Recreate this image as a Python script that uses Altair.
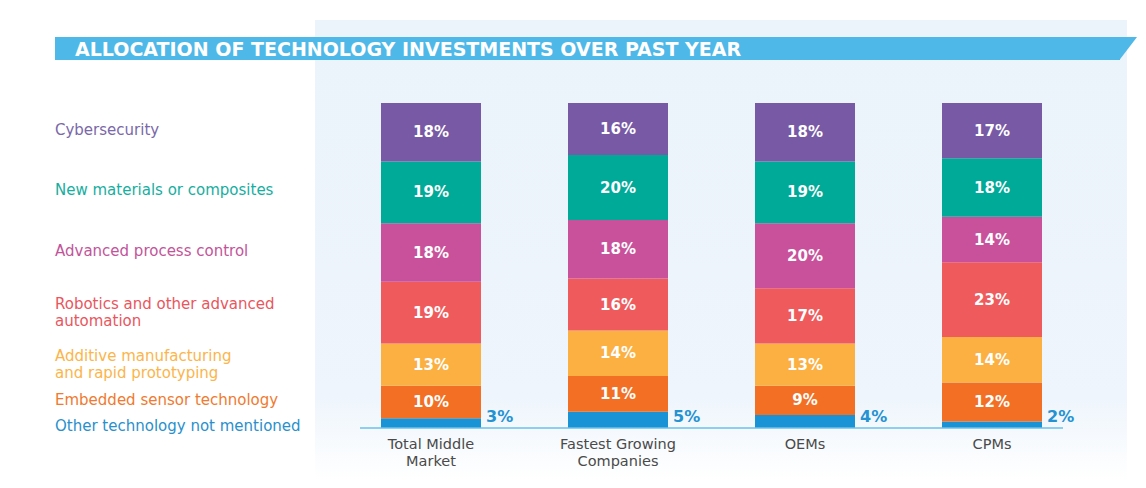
import altair as alt
import pandas as pd

# ---------------- data ----------------
groups = ["Total Middle Market", "Fastest Growing Companies", "OEMs", "CPMs"]
group_labels = ["Total Middle\nMarket", "Fastest Growing\nCompanies", "OEMs", "CPMs"]

categories = [
    "Cybersecurity",
    "New materials or composites",
    "Advanced process control",
    "Robotics and other advanced automation",
    "Additive manufacturing and rapid prototyping",
    "Embedded sensor technology",
    "Other technology not mentioned",
]
category_labels = [
    "Cybersecurity",
    "New materials or composites",
    "Advanced process control",
    "Robotics and other advanced\nautomation",
    "Additive manufacturing\nand rapid prototyping",
    "Embedded sensor technology",
    "Other technology not mentioned",
]

total_middle_market = [18, 19, 18, 19, 13, 10, 3]
fastest_growing = [16, 20, 18, 16, 14, 11, 5]
oems = [18, 19, 20, 17, 13, 9, 4]
cpms = [17, 18, 14, 23, 14, 12, 2]
series = [total_middle_market, fastest_growing, oems, cpms]

bar_colors = ["#7759A5", "#00AA98", "#C9519B", "#EF5A5C", "#FBB041", "#F26F23", "#1A93D6"]
text_colors = ["#7A68A8", "#17AE9F", "#C2559A", "#E9565E", "#FBB54B", "#EF7A30", "#2A90CC"]
title_text = "ALLOCATION OF TECHNOLOGY INVESTMENTS OVER PAST YEAR"

# ------------- build tables -------------
rows = []
for g, gl, vals in zip(groups, group_labels, series):
    cum = 0
    for i in range(len(categories) - 1, -1, -1):
        v = vals[i]
        rows.append({
            "group": g, "glabel": gl, "category": categories[i],
            "clabel": category_labels[i], "value": v,
            "start": cum, "end": cum + v, "mid": cum + v / 2,
            "label": f"{v}%", "is_other": i == len(categories) - 1,
            "multi": "\n" in category_labels[i],
        })
        cum += v
df = pd.DataFrame(rows)
seg_df = df[~df["is_other"]]
other_df = df[df["is_other"]]
legend_df = df[df["group"] == groups[0]]
leg_single = legend_df[(~legend_df["multi"]) & (~legend_df["is_other"])]
leg_multi = legend_df[legend_df["multi"]]
leg_other = legend_df[legend_df["is_other"]]
grp_df = pd.DataFrame({"group": groups, "glabel": group_labels})

FONT = "DejaVu Sans"

x_scale = alt.Scale(domain=groups, range=[373, 1034], paddingInner=87 / 187, paddingOuter=0)
y_scale = alt.Scale(domain=[0, 100], range=[420, 95])
X = alt.X("group:N", scale=x_scale, axis=None, sort=groups)
color_scale = alt.Scale(domain=categories, range=bar_colors)
tcolor_scale = alt.Scale(domain=categories, range=text_colors)

one = pd.DataFrame({"a": [0]})

# panel background
panel = alt.Chart(one).mark_rect(
    color=alt.LinearGradient(
        gradient="linear", x1=0, y1=0, x2=0, y2=1,
        stops=[alt.GradientStop(offset=0, color="#EBF3FB"),
               alt.GradientStop(offset=0.82, color="#EEF5FC"),
               alt.GradientStop(offset=1, color="#FFFFFF")],
    )
).encode(x=alt.value(307), x2=alt.value(1119), y=alt.value(12), y2=alt.value(472))

# title banner
banner = alt.Chart(one).mark_rect(color="#4EB8E8").encode(
    x=alt.value(47), x2=alt.value(1112), y=alt.value(29), y2=alt.value(52))
banner_tip = alt.Chart(one).mark_point(
    shape="M-0.05,-1L1.48,-1L-0.05,1Z", filled=True, color="#4EB8E8", opacity=1, size=529
).encode(x=alt.value(1112), y=alt.value(40.5))
title = alt.Chart(one).mark_text(
    text=title_text, font=FONT, fontWeight="bold", fontSize=19, color="white",
    align="left", baseline="middle"
).encode(x=alt.value(67), y=alt.value(41.5))

# bars
bars = alt.Chart(df).mark_bar().encode(
    x=X,
    y=alt.Y("start:Q", scale=y_scale, axis=None),
    y2="end:Q",
    color=alt.Color("category:N", scale=color_scale, legend=None),
)

seg_text = alt.Chart(seg_df).mark_text(
    font=FONT, fontWeight="bold", fontSize=15, color="white", baseline="middle"
).encode(x=X, y=alt.Y("mid:Q", scale=y_scale, axis=None), text="label:N")

other_text = alt.Chart(other_df).mark_text(
    font=FONT, fontWeight="bold", fontSize=16, color="#2592D2", align="left",
    baseline="middle", dx=55
).encode(x=X, y=alt.value(409), text="label:N")

baseline_rule = alt.Chart(one).mark_rule(color="#6CC0E8", strokeWidth=1.5).encode(
    x=alt.value(352), x2=alt.value(1055), y=alt.value(420))

group_text = alt.Chart(grp_df).mark_text(
    font=FONT, fontSize=14.5, color="#4A4A4A", baseline="top", lineBreak="\n", lineHeight=17
).encode(x=X, y=alt.value(430), text="glabel:N")


def legend_layer(data, dy):
    return alt.Chart(data).mark_text(
        font=FONT, fontSize=15, align="left", baseline="middle", lineBreak="\n",
        lineHeight=17, dy=dy
    ).encode(
        x=alt.value(47),
        y=alt.Y("mid:Q", scale=y_scale, axis=None),
        text="clabel:N",
        color=alt.Color("category:N", scale=tcolor_scale, legend=None),
    )


chart = alt.layer(
    panel, banner, banner_tip, title, bars, seg_text, other_text, baseline_rule,
    group_text, legend_layer(leg_single, -2), legend_layer(leg_multi, -9),
    legend_layer(leg_other, 3)
).resolve_scale(color="independent").properties(
    width=1130, height=472, padding=0, autosize="none", background="white"
).configure_view(stroke=None)

chart.save("out.html", embed_options={"renderer": "svg", "actions": False})
